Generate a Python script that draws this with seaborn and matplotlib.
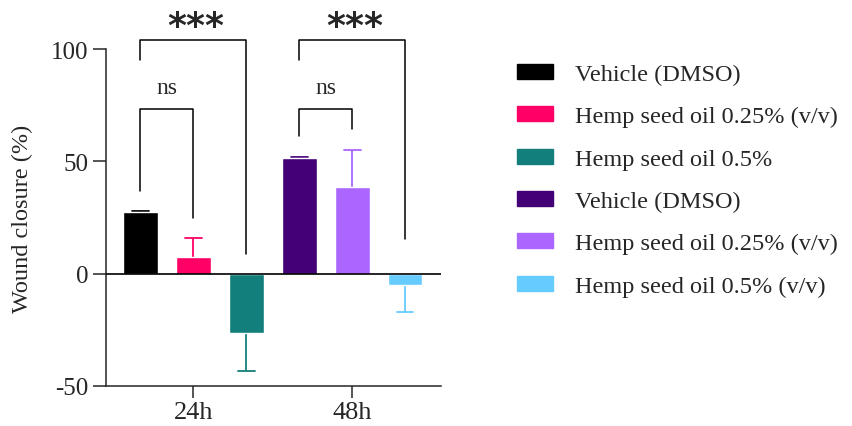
import matplotlib
matplotlib.use("Agg")
import matplotlib.pyplot as plt
import matplotlib.patches as mpatches
import seaborn as sns
import pandas as pd
import numpy as np

# ---- data ----
bar_ids = ["v24", "h025_24", "h05_24", "v48", "h025_48", "h05_48"]
legend_labels = ["Vehicle (DMSO)", "Hemp seed oil 0.25% (v/v)", "Hemp seed oil 0.5%",
                 "Vehicle (DMSO)", "Hemp seed oil 0.25% (v/v)", "Hemp seed oil 0.5% (v/v)"]
values = [27.4, 7.6, -26.5, 51.6, 38.4, -5.0]
errors = [0.6, 8.2, 16.8, 0.3, 16.8, 12.2]
colors = ["#000000", "#FF0066", "#127F7C", "#440077", "#AA66FF", "#66CCFF"]
time_labels = ["24h", "48h"]
yticks = [-50, 0, 50, 100]

# significance brackets: (left bar, right bar, top, left leg end, right leg end, label)
br_left = [0, 0, 3, 3]
br_right = [1, 2, 4, 5]
br_top = [73.1, 103.9, 73.1, 103.9]
br_left_end = [36.8, 95.1, 61.2, 95.1]
br_right_end = [24.7, 8.8, 64.2, 15.5]
br_text = ["ns", "***", "ns", "***"]

df = pd.DataFrame({"bar": bar_ids, "value": values})

sns.set_style("ticks")
plt.rcParams["font.family"] = ["Liberation Serif", "DejaVu Serif"]
plt.rcParams["axes.unicode_minus"] = False

fig = plt.figure(figsize=(8.52, 4.27), dpi=100)
ax = fig.add_axes([0.1244, 0.0937, 0.3932, 0.7892])

sns.barplot(data=df, x="bar", y="value", hue="bar", order=bar_ids, hue_order=bar_ids,
            palette=dict(zip(bar_ids, colors)), dodge=False, width=0.66, saturation=1,
            legend=False, ax=ax, zorder=3)

pos = np.arange(len(values))
cap_half = 0.16
for i, (v, e, c) in enumerate(zip(values, errors, colors)):
    end = v + e if v >= 0 else v - e
    ax.plot([pos[i], pos[i]], [v, end], color=c, lw=1.3, zorder=2, solid_capstyle="butt")
    ax.plot([pos[i] - cap_half, pos[i] + cap_half], [end, end], color=c, lw=1.3, zorder=2)

ax.axhline(0, color="black", lw=1.2, zorder=4)

lw = 1.1
for l, r, t, le, re, txt in zip(br_left, br_right, br_top, br_left_end, br_right_end, br_text):
    ax.plot([pos[l], pos[l], pos[r], pos[r]], [le, t, t, re], color="black", lw=lw,
            clip_on=False, zorder=5)
    if txt == "ns":
        ax.text((pos[l] + pos[r]) / 2, t + 9.8, txt, ha="center", va="center",
                fontsize=17)
    else:
        ax.text((pos[l] + pos[r]) / 2 + 0.05, t + 6.5, txt, ha="center", va="center",
                fontsize=26, fontweight="bold", family="DejaVu Sans")

ax.set_xlim(-0.65, 5.68)
ax.set_ylim(-50, 100)
ax.set_yticks(yticks)
ax.set_yticklabels([str(t) for t in yticks], fontsize=18)
ax.set_xticks([1, 4])
ax.set_xticklabels(time_labels, fontsize=19)
ax.set_xlabel("")
ax.set_ylabel("Wound closure (%)", fontsize=17.5, labelpad=13)
ax.tick_params(axis="y", length=9.5, width=1.1, pad=3)
ax.tick_params(axis="x", length=8.5, width=1.1, pad=2)
for s in ["top", "right"]:
    ax.spines[s].set_visible(False)
for s in ["left", "bottom"]:
    ax.spines[s].set_linewidth(1.1)

handles = [mpatches.Patch(facecolor=c, edgecolor=c) for c in colors]
fig.legend(handles, legend_labels, loc="upper left", bbox_to_anchor=(0.607, 0.848),
           frameon=False, fontsize=17.5, handlelength=1.48, handleheight=0.58,
           handletextpad=0.9, labelspacing=0.87, borderpad=0, borderaxespad=0)

fig.savefig("out.png", dpi=100)
